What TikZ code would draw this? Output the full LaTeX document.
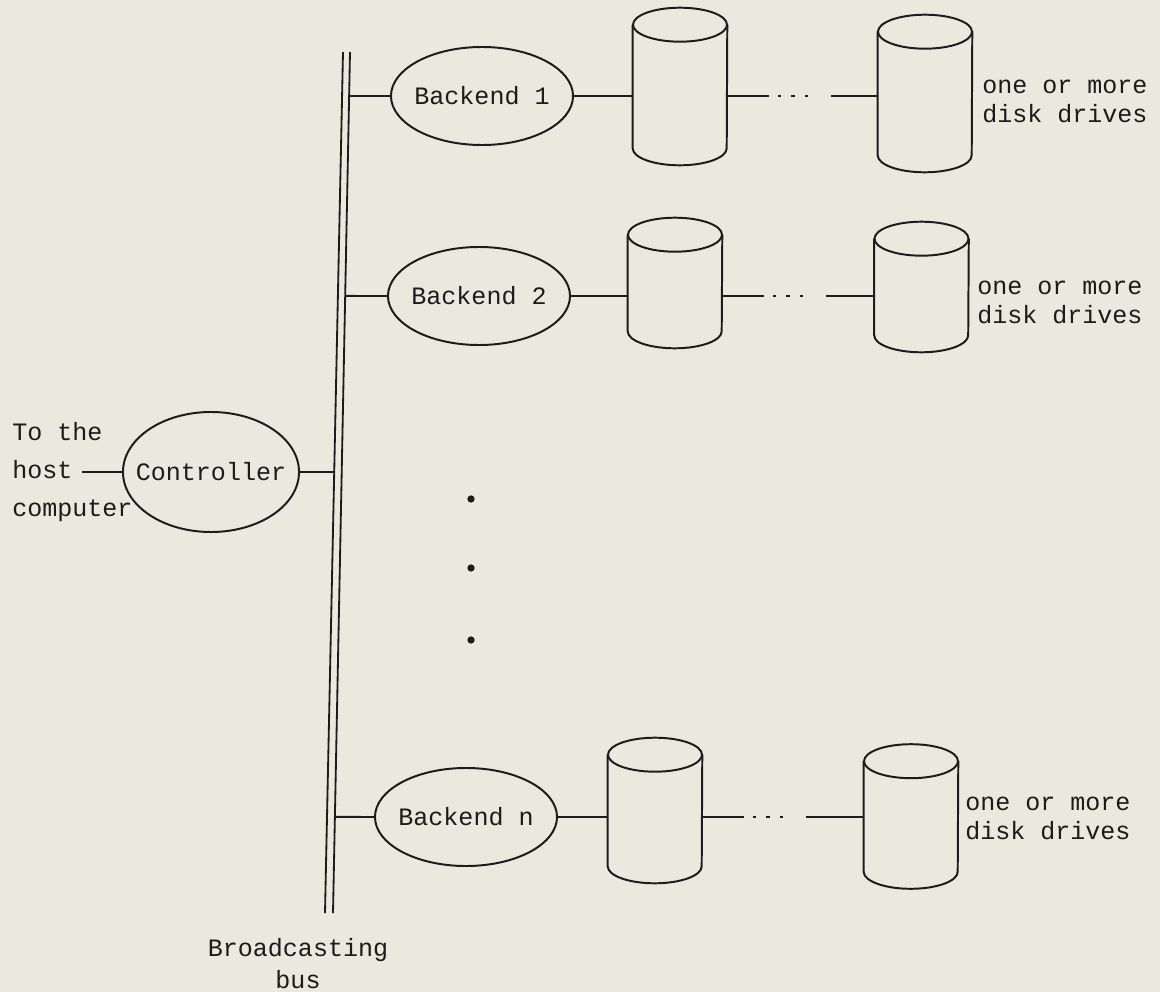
\documentclass[tikz,border=0pt]{standalone}
\usepackage{fontspec}
\setmonofont{Liberation Mono}
\usetikzlibrary{shapes.geometric, positioning, calc}
\definecolor{paper}{RGB}{233,233,221}
\definecolor{ink}{RGB}{28,28,28}
\tikzset{
    engine/.style={ellipse, draw=ink, line width=1.4pt, inner ysep=0pt, inner xsep=-10pt, minimum width=4.55cm, minimum height=2.45cm, font=\ttfamily\fontsize{17.8}{21}\selectfont, text=ink},
    disk/.style={rectangle, inner sep=0pt, minimum width=2.35cm},
    note/.style={font=\ttfamily\fontsize{17.8}{20.6}\selectfont, text=ink, align=left, inner sep=0pt},
    link/.style={draw=ink, line width=1.4pt},
    gaplink/.style={link, dash pattern=on 30pt off 6pt on 2.4pt off 7.2pt on 2.4pt off 7.2pt on 2.4pt off 16pt on 60pt},
    rail/.style={draw=ink, line width=1.3pt},
}
\begin{document}
\begin{tikzpicture}[x=0.025cm, y=-0.025cm]
        \fill[paper] (0,0) rectangle (1160,992);
        \coordinate (lt) at (343,52);
        \coordinate (lb) at (325,913);
        \coordinate (rt) at (350,52);
        \coordinate (rb) at (333,913);
        \draw[rail] (lt) -- (lb);
        \draw[rail] (rt) -- (rb);
        \node[engine, minimum width=4.4cm, minimum height=3cm] (ctrl) at (211,472) {Controller};
        \node[note, anchor=west, font=\ttfamily\fontsize{17.8}{27}\selectfont] (host) at (12,472) {To the\\host\\computer};
        \coordinate (hostend) at (82,472);
        \node[engine] (be1) at (482,96) {Backend 1};
        \node[engine] (be2) at (479,296) {Backend 2};
        \node[engine] (ben) at (466,817) {Backend n};
        \node[disk, minimum height=3.925cm] (d1a) at (680,86.5) {};
        \node[disk, minimum height=3.925cm] (d1b) at (925,93.5) {};
        \node[disk, minimum height=3.25cm] (d2a) at (675,283) {};
        \node[disk, minimum height=3.25cm] (d2b) at (921.5,287) {};
        \node[disk, minimum height=3.625cm] (dna) at (655,810.5) {};
        \node[disk, minimum height=3.6cm] (dnb) at (911,816.5) {};
        \foreach \d in {d1a,d1b,d2a,d2b,dna,dnb} {
            \draw[link] ($(\d.north)+(0,17)$) ellipse [x radius=47, y radius=17];
            \draw[link] ($(\d.north west)+(0,17)$) -- ($(\d.south west)+(0,-17)$)
                arc [start angle=180, end angle=0, x radius=47, y radius=17]
                -- ($(\d.north east)+(0,17)$);
        }
        \node[note, anchor=west] (dr1) at (982,101) {one or more\\disk drives};
        \node[note, anchor=west] (dr2) at (977,302) {one or more\\disk drives};
        \node[note, anchor=west] (drn) at (965,818) {one or more\\disk drives};
        \node[note, align=center, font=\ttfamily\fontsize{17.8}{22.7}\selectfont] (buslbl) at (298,964) {Broadcasting\\bus};
        \draw[link] (hostend) -- (ctrl.west);
        \draw[link] (ctrl.east) -- (intersection of ctrl.west--ctrl.east and lt--lb);
        \draw[link] (be1.west) -- (intersection of be1.west--be1.east and rt--rb);
        \draw[link] (be2.west) -- (intersection of be2.west--be2.east and rt--rb);
        \draw[link] (ben.west) -- (intersection of ben.west--ben.east and rt--rb);
        \draw[link] (be1.east) -- (be1.east -| d1a.west);
        \draw[link] (be2.east) -- (be2.east -| d2a.west);
        \draw[link] (ben.east) -- (ben.east -| dna.west);
        \draw[gaplink] (be1.east -| d1a.east) -- (be1.east -| d1b.west);
        \draw[gaplink] (be2.east -| d2a.east) -- (be2.east -| d2b.west);
        \draw[gaplink] (ben.east -| dna.east) -- (ben.east -| dnb.west);
        \foreach \y in {499,568,640}
            \fill[ink] (471,\y) circle (2.6pt);
\end{tikzpicture}
\end{document}
